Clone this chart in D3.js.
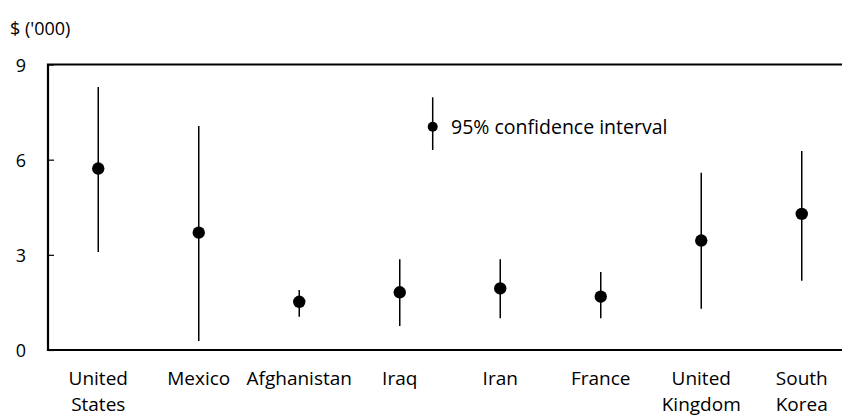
<!DOCTYPE html>
<html>
<head>
<meta charset="utf-8">
<script src="https://cdn.jsdelivr.net/npm/d3@7/dist/d3.min.js"></script>
<style>
  html, body { margin: 0; padding: 0; background: #fff; }
  svg { display: block; }
  text { font-family: "Open Sans", Lato, sans-serif; fill: #000; }
</style>
</head>
<body>
<svg id="chart" width="842" height="419"></svg>
<script>
// Income estimates by country of origin, $ thousands, with 95% confidence bounds
const countries = ["United States", "Mexico", "Afghanistan", "Iraq", "Iran", "France", "United Kingdom", "South Korea"];
const estimate  = [5.72, 3.70, 1.52, 1.82, 1.94, 1.68, 3.45, 4.29];
const lower     = [3.09, 0.28, 1.05, 0.76, 1.00, 1.00, 1.30, 2.18];
const upper     = [8.29, 7.06, 1.89, 2.86, 2.86, 2.46, 5.59, 6.27];
const yTicks    = [0, 3, 6, 9];

const svg = d3.select("#chart");
const W = 842;
const plotLeft = 48, plotTop = 64.5, plotBottom = 350;
const bandW = 100.5;

const x = d3.scaleBand().domain(countries).range([plotLeft, plotLeft + bandW * countries.length]).padding(0);
const y = d3.scaleLinear().domain([0, 9]).range([plotBottom, plotTop]);

const rows = countries.map((c, i) => ({ c, v: estimate[i], lo: lower[i], hi: upper[i] }));
const cx = d => x(d.c) + x.bandwidth() / 2;

// frame: left, top and bottom edges (plot runs off the right side)
svg.append("path")
  .attr("d", `M${W + 10},${y(9)} H${plotLeft} V${y(0)} H${W + 10}`)
  .attr("fill", "none").attr("stroke", "#000").attr("stroke-width", 2.2);

// y axis: inward ticks and labels
const yAxis = d3.axisLeft(y).tickValues(yTicks).tickSize(-6).tickPadding(22).tickFormat(d3.format("d"));
const gy = svg.append("g").attr("transform", `translate(${plotLeft},0)`).call(yAxis);
gy.select(".domain").remove();
gy.selectAll(".tick line").attr("stroke", "#000").attr("stroke-width", 1.2);
gy.selectAll(".tick text")
  .attr("font-size", 18).attr("font-family", "'Open Sans', Lato, sans-serif")
  .attr("fill", "#000").attr("dy", "0.38em");

// unit label
svg.append("text").attr("x", 10).attr("y", 35).attr("font-size", 18).text("$ ('000)");

// error bars
svg.append("g").selectAll("line").data(rows).join("line")
  .attr("x1", cx).attr("x2", cx)
  .attr("y1", d => y(d.lo)).attr("y2", d => y(d.hi))
  .attr("stroke", "#000").attr("stroke-width", 1.5);

// point estimates
svg.append("g").selectAll("circle").data(rows).join("circle")
  .attr("cx", cx).attr("cy", d => y(d.v)).attr("r", 6.2).attr("fill", "#000");

// category labels, two-word names split on two lines
const gx = svg.append("g");
rows.forEach(d => {
  const words = d.c === "Afghanistan" ? [d.c] : d.c.split(" ");
  const t = gx.append("text").attr("text-anchor", "middle").attr("font-size", 19)
    .attr("x", cx(d)).attr("y", 385);
  words.forEach((w, j) => {
    t.append("tspan").attr("x", cx(d)).attr("dy", j === 0 ? 0 : 26).text(w);
  });
});

// key for the interval marks
const kx = 432.7, ky = 126.7;
svg.append("line").attr("x1", kx).attr("x2", kx).attr("y1", 97.3).attr("y2", 150)
  .attr("stroke", "#000").attr("stroke-width", 1.5);
svg.append("circle").attr("cx", kx).attr("cy", ky).attr("r", 5).attr("fill", "#000");
svg.append("text").attr("x", 451).attr("y", ky).attr("dy", "0.36em").attr("font-size", 19.5)
  .text("95% confidence interval");
</script>
</body>
</html>
